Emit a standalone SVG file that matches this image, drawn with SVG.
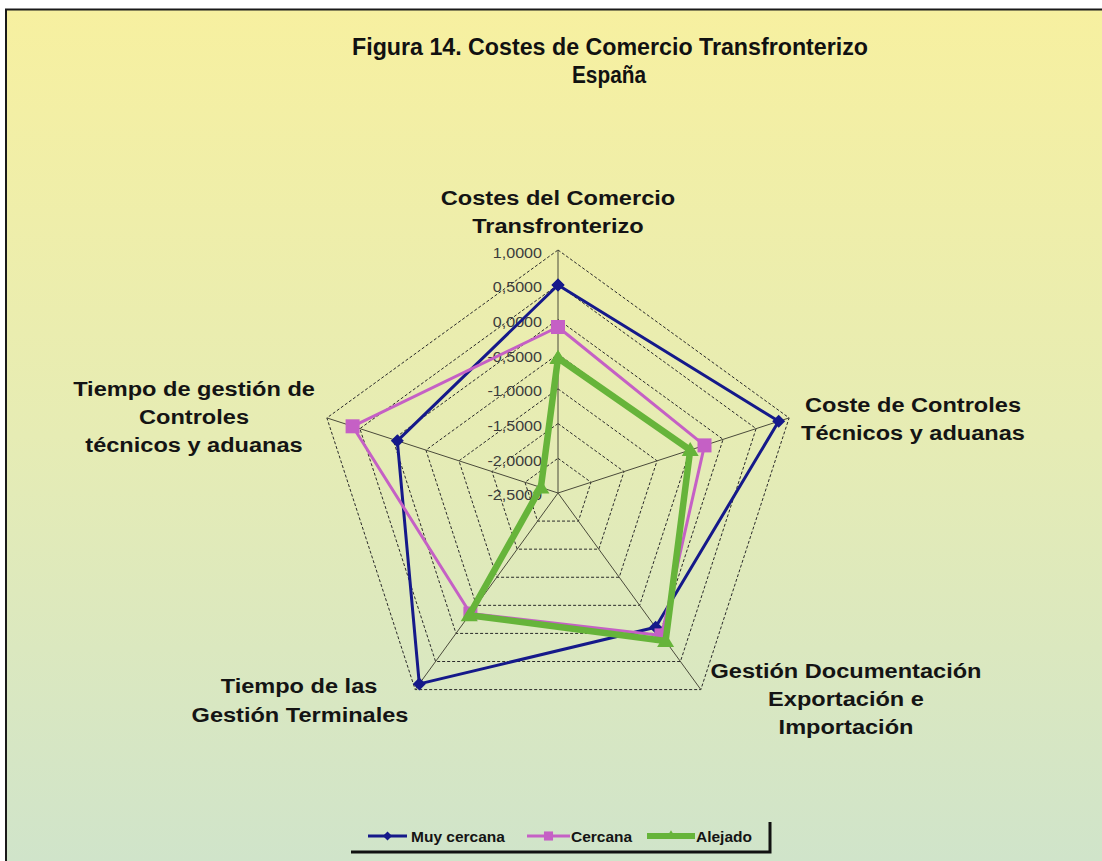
<svg xmlns="http://www.w3.org/2000/svg" xmlns:xlink="http://www.w3.org/1999/xlink" width="1102" height="861" viewBox="0 0 1102 861">
<style>
.title{font-family:"Liberation Sans",Arial,sans-serif;font-weight:bold;font-size:23px;fill:#111;text-anchor:middle}
.ax{font-family:"Liberation Sans",Arial,sans-serif;font-weight:bold;font-size:20.5px;fill:#141414;text-anchor:middle}
.tick{font-family:"Liberation Sans",Arial,sans-serif;font-size:14px;fill:#3c3c3c;text-anchor:end}
.leg{font-family:"Liberation Sans",Arial,sans-serif;font-weight:bold;font-size:15.5px;fill:#141414}
.ring{fill:none;stroke:#2a2a2a;stroke-width:1;stroke-dasharray:3 2}
.axis{stroke:#4a4a3a;stroke-width:1}
.blue{fill:none;stroke:#15198a;stroke-width:3;stroke-linejoin:round}
.mag{fill:none;stroke:#c560c5;stroke-width:3;stroke-linejoin:round}
.grn{fill:none;stroke:#66b43a;stroke-width:6.5;stroke-linejoin:round}
</style>
<defs>
<linearGradient id="bg" x1="0" y1="0" x2="0" y2="1">
<stop offset="0" stop-color="#f7f0a0"/>
<stop offset="0.5" stop-color="#e6ecb4"/>
<stop offset="1" stop-color="#d0e4ca"/>
</linearGradient>
<path id="dia" d="M0,-6.5 L6.5,0 L0,6.5 L-6.5,0Z" fill="#15198a"/>
<path id="sq" d="M-7,-7 H7 V7 H-7Z" fill="#c560c5"/>
<path id="tri" d="M0,-8 L8.5,6 L-8.5,6Z" fill="#66b43a"/>
<marker id="mDia" markerUnits="userSpaceOnUse" markerWidth="16" markerHeight="16" refX="0" refY="0" viewBox="-8 -8 16 16" overflow="visible"><use xlink:href="#dia"/></marker>
<marker id="mSq" markerUnits="userSpaceOnUse" markerWidth="16" markerHeight="16" refX="0" refY="0" viewBox="-8 -8 16 16" overflow="visible"><use xlink:href="#sq"/></marker>
<marker id="mTri" markerUnits="userSpaceOnUse" markerWidth="20" markerHeight="20" refX="0" refY="0" viewBox="-10 -10 20 20" overflow="visible"><use xlink:href="#tri"/></marker>
</defs>

<rect x="0" y="0" width="1102" height="861" fill="#ffffff"/>
<rect x="6" y="9" width="1096" height="852" fill="url(#bg)"/>
<path d="M6,861 V9.5 H1102" fill="none" stroke="#1a1a1a" stroke-width="2"/>

<g id="title">
<text class="title" x="610" y="55" textLength="516" lengthAdjust="spacingAndGlyphs">Figura 14. Costes de Comercio Transfronterizo</text>
<text class="title" x="609" y="83" textLength="74" lengthAdjust="spacingAndGlyphs">España</text>
</g>

<g id="grid">
<polygon class="ring" points="558,458.29 591.02,482.27 578.41,521.08 537.59,521.08 524.98,482.27"/>
<polygon class="ring" points="558,423.57 624.03,471.55 598.81,549.17 517.19,549.17 491.97,471.55"/>
<polygon class="ring" points="558,388.86 657.05,460.82 619.21,577.25 496.79,577.25 458.95,460.82"/>
<polygon class="ring" points="558,354.14 690.06,450.09 639.62,605.34 476.38,605.34 425.94,450.09"/>
<polygon class="ring" points="558,319.43 723.08,439.36 660.02,633.42 455.98,633.42 392.92,439.36"/>
<polygon class="ring" points="558,284.71 756.09,428.63 680.43,661.51 435.57,661.51 359.91,428.63"/>
<polygon class="ring" points="558,250 789.11,417.91 700.83,689.59 415.17,689.59 326.89,417.91"/>
<line class="axis" x1="558" y1="493" x2="558" y2="250"/>
<line class="axis" x1="558" y1="493" x2="789.11" y2="417.91"/>
<line class="axis" x1="558" y1="493" x2="700.83" y2="689.59"/>
<line class="axis" x1="558" y1="493" x2="415.17" y2="689.59"/>
<line class="axis" x1="558" y1="493" x2="326.89" y2="417.91"/>
</g>

<g id="ticks">
<text class="tick" transform="translate(542,258) scale(1.15,1)">1,0000</text>
<text class="tick" transform="translate(542,292) scale(1.15,1)">0,5000</text>
<text class="tick" transform="translate(542,327) scale(1.15,1)">0,0000</text>
<text class="tick" transform="translate(542,362) scale(1.15,1)">-0,5000</text>
<text class="tick" transform="translate(542,396) scale(1.15,1)">-1,0000</text>
<text class="tick" transform="translate(542,431) scale(1.15,1)">-1,5000</text>
<text class="tick" transform="translate(542,466) scale(1.15,1)">-2,0000</text>
<text class="tick" transform="translate(542,500) scale(1.15,1)">-2,5000</text>
</g>

<g id="series">
<polygon id="s-muy-cercana" class="blue" points="558,285 778.7,421.3 655.6,627.3 419.3,683.9 397.3,440.8" marker-start="url(#mDia)" marker-mid="url(#mDia)" marker-end="url(#mDia)"/>
<polygon id="s-cercana" class="mag" points="558,327 704.5,445.4 661.5,635.4 470.4,613.5 352.6,426.3" marker-start="url(#mSq)" marker-mid="url(#mSq)" marker-end="url(#mSq)"/>
<polygon id="s-alejado" class="grn" points="558,358 690.2,450 665.6,641 469.2,615.2 540.9,487.4" marker-start="url(#mTri)" marker-mid="url(#mTri)" marker-end="url(#mTri)"/>
</g>

<g id="label-top">
<text class="ax" transform="translate(558,205) scale(1.15,1)">Costes del Comercio</text>
<text class="ax" transform="translate(558,233) scale(1.15,1)">Transfronterizo</text>
</g>
<g id="label-right">
<text class="ax" transform="translate(913,412) scale(1.15,1)">Coste de Controles</text>
<text class="ax" transform="translate(913,440) scale(1.15,1)">Técnicos y aduanas</text>
</g>
<g id="label-lower-right">
<text class="ax" transform="translate(846,678) scale(1.15,1)">Gestión Documentación</text>
<text class="ax" transform="translate(846,706) scale(1.15,1)">Exportación e</text>
<text class="ax" transform="translate(846,734) scale(1.15,1)">Importación</text>
</g>
<g id="label-lower-left">
<text class="ax" transform="translate(299,693) scale(1.15,1)">Tiempo de las</text>
<text class="ax" transform="translate(300,722) scale(1.15,1)">Gestión Terminales</text>
</g>
<g id="label-upper-left">
<text class="ax" transform="translate(194,396) scale(1.15,1)">Tiempo de gestión de</text>
<text class="ax" transform="translate(194,424) scale(1.15,1)">Controles</text>
<text class="ax" transform="translate(194,452) scale(1.15,1)">técnicos y aduanas</text>
</g>

<g id="legend">
<path d="M351,852 H770 V822" fill="none" stroke="#111" stroke-width="3"/>
<line x1="368" y1="836" x2="407" y2="836" stroke="#15198a" stroke-width="3"/>
<use xlink:href="#dia" transform="translate(387.5,836) scale(0.7)"/>
<text class="leg" x="411" y="842">Muy cercana</text>
<line x1="527" y1="836" x2="570" y2="836" stroke="#c560c5" stroke-width="3"/>
<use xlink:href="#sq" transform="translate(548.5,836) scale(0.65)"/>
<text class="leg" x="571" y="842">Cercana</text>
<line x1="647" y1="836" x2="695" y2="836" stroke="#66b43a" stroke-width="6"/>
<use xlink:href="#tri" transform="translate(671,835) scale(0.6)"/>
<text class="leg" x="696" y="842">Alejado</text>
</g>
</svg>
